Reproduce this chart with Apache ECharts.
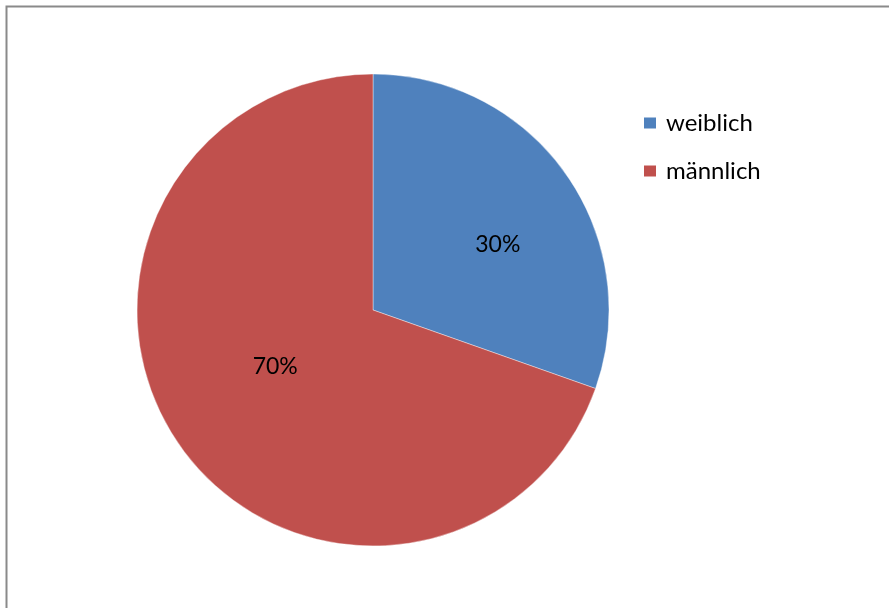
<!DOCTYPE html>
<html>
<head>
<meta charset="utf-8">
<script src="https://cdn.jsdelivr.net/npm/echarts@6/dist/echarts.min.js"></script>
<style>
html,body{margin:0;padding:0;background:#fff;}
#chart{width:889px;height:608px;}
</style>
</head>
<body>
<div id="chart"></div>
<script>
const categories = ['weiblich', 'männlich'];
const values = [30.4, 69.6];
const colors = ['#4F81BD', '#C0504D'];
const labelOffsets = [[26, 4], [1, -13]];

const chart = echarts.init(document.getElementById('chart'), null, {renderer: 'canvas'});
chart.setOption({
  backgroundColor: '#ffffff',
  animation: false,
  graphic: [{
    type: 'polyline',
    shape: {points: [[6.5, 608], [6.5, 6.5], [889, 6.5]]},
    style: {stroke: '#8a8a8a', lineWidth: 2, fill: null}
  }],
  legend: {
    orient: 'vertical',
    left: 642,
    top: 111,
    padding: 0,
    itemWidth: 14,
    itemHeight: 13,
    itemGap: 24,
    icon: 'rect',
    data: categories,
    textStyle: {fontFamily: 'Lato', fontSize: 24, color: '#000', lineHeight: 24, padding: [0, 0, 0, 4]}
  },
  series: [{
    type: 'pie',
    center: [373, 310],
    radius: 236,
    startAngle: 90,
    clockwise: true,
    itemStyle: {borderColor: '#ffffff', borderWidth: 0.4},
    emphasis: {disabled: true},
    label: {
      show: true,
      position: 'inside',
      formatter: p => Math.round(p.percent) + '%',
      fontFamily: 'Lato',
      fontSize: 23,
      color: '#000'
    },
    labelLine: {show: false},
    data: categories.map((c, i) => ({
      name: c,
      value: values[i],
      itemStyle: {color: colors[i]},
      label: {offset: labelOffsets[i]}
    }))
  }]
});
</script>
</body>
</html>
